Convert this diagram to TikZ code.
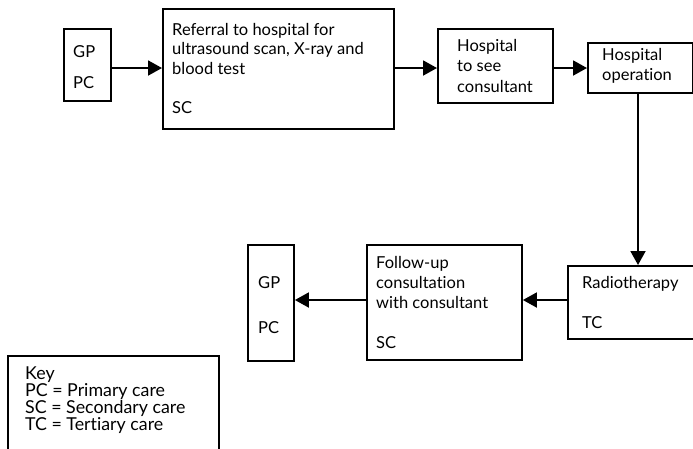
\documentclass[tikz,border=0pt]{standalone}
\usepackage{fontspec}
\setmainfont{Lato}[Ligatures=NoCommon]
\usetikzlibrary{arrows.meta}
% stacked left-aligned lines; the baseline is that of the first line
\newcommand\textlines[2]{\vtop{\baselineskip=#1\lineskiplimit=-10pt\halign{##\hfil\cr#2\crcr}}}
\begin{document}
\begin{tikzpicture}[x=1pt,y=-1pt,
  box/.style={draw,line width=1.9pt,inner sep=0pt,anchor=north west},
  txt/.style={anchor=base west,inner sep=0pt,font=\fontsize{16.5}{20}\selectfont},
  keytxt/.style={anchor=base west,inner sep=0pt,font=\fontsize{17.8}{17}\selectfont},
  flow/.style={line width=1.9pt,-{Triangle[length=14pt,width=15pt]}}]
\useasboundingbox (0,0) rectangle (693,448);

% boxes
\node[box,minimum width=47pt,minimum height=72pt] (gpa) at (63,28) {};
\node[box,minimum width=231pt,minimum height=120pt] (ref) at (162,8) {};
\node[box,minimum width=115pt,minimum height=74pt] (hosp) at (437,28) {};
\node[box,minimum width=105pt,minimum height=50pt] (oper) at (587,42) {};
\node[box,minimum width=140pt,minimum height=73pt] (radio) at (567,265) {};
\node[box,minimum width=155pt,minimum height=115pt] (follow) at (366,244) {};
\node[box,minimum width=46pt,minimum height=116pt] (gpb) at (247,244) {};
\node[box,minimum width=211pt,minimum height=110pt] (key) at (7,355) {};

% texts
\node[txt] (gpa1) at (73,57) {GP};
\node[txt] (gpa2) at (73,88) {PC};
\node[txt] (ref1) at (172,35) {\textlines{19.5pt}{Referral to hospital for\cr ultrasound scan, X-ray and\cr blood test}};
\node[txt] (ref2) at (172,113) {SC};
\node[txt] (hosp1) at (457,51) {\textlines{20.5pt}{Hospital\cr to see\cr consultant}};
\node[txt] (oper1) at (602,60) {\textlines{20pt}{Hospital\cr operation}};
\node[txt] (radio1) at (582,288) {Radiotherapy};
\node[txt] (radio2) at (582,328) {TC};
\node[txt] (follow1) at (376,268) {\textlines{20pt}{Follow-up\cr consultation\cr with consultant}};
\node[txt] (follow2) at (376,348) {SC};
\node[txt] (gpb1) at (258,288) {GP};
\node[txt] (gpb2) at (258,333) {PC};
\node[keytxt] (key1) at (25,379) {\textlines{17pt}{Key\cr PC = Primary care\cr SC = Secondary care\cr TC = Tertiary care}};

% connectors
\coordinate (row) at (0,68);
\coordinate (low) at (0,300);
\draw[flow] (gpa.east |- row) -- (ref.west |- row);
\draw[flow] (ref.east |- row) -- (hosp.west |- row);
\draw[flow] (hosp.east |- row) -- (oper.west |- row);
\draw[flow] (oper.south -| 638,0) -- (radio.north -| 638,0);
\draw[flow] (radio.west |- low) -- (follow.east |- low);
\draw[flow] (follow.west |- low) -- (gpb.east |- low);
\end{tikzpicture}
\end{document}
